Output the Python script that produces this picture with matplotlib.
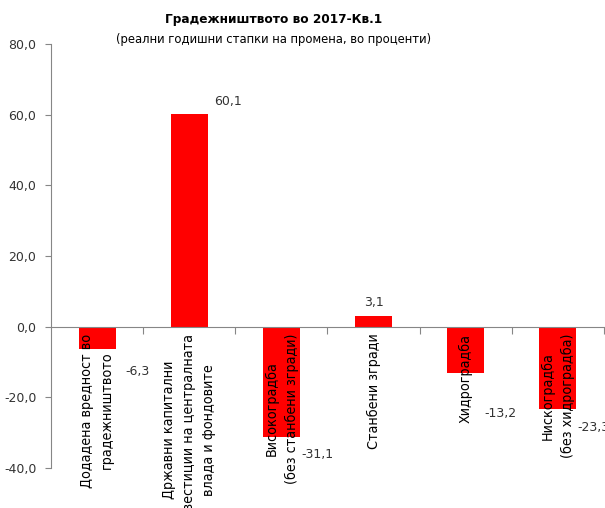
import matplotlib
matplotlib.use('Agg')
import matplotlib.pyplot as plt

# Податоци
kategorii = [
    "Додадена вредност во\nградежништвото",
    "Државни капитални\nинвестиции на централната\nвлада и фондовите",
    "Високоградба\n(без станбени згради)",
    "Станбени згради",
    "Хидроградба",
    "Нискоградба\n(без хидроградба)",
]
vrednosti = [-6.3, 60.1, -31.1, 3.1, -13.2, -23.3]
yticks = [-40, -20, 0, 20, 40, 60, 80]

# pomestuvanje na etiketite (pikseli), rachno kako vo Excel
label_pos = [(10, -23, 'left'), (6, 13, 'left'), (2, -18, 'left'),
             (0, 13, 'center'), (0, -40, 'left'), (1, -19, 'left')]

siva = '#868686'
plt.rcParams['font.family'] = ['DejaVu Sans']

fig = plt.figure(figsize=(6.05, 5.08), dpi=100)
ax = fig.add_axes([51 / 605, 1 - 468 / 508, 553 / 605, 424 / 508])

x = list(range(len(kategorii)))
bars = ax.bar(x, vrednosti, width=0.4, color='#ff0000')

ax.set_xlim(-0.5, len(kategorii) - 0.5)
ax.set_ylim(-40, 80)

ax.spines['top'].set_visible(False)
ax.spines['right'].set_visible(False)
ax.spines['bottom'].set_position(('data', 0))
ax.spines['bottom'].set_color(siva)
ax.spines['left'].set_color(siva)

ax.set_yticks(yticks)
ax.set_yticklabels([f"{v:.1f}".replace('.', ',') for v in yticks], fontsize=9, color='#333333')
ax.tick_params(axis='y', direction='out', length=4.5, color=siva, pad=6)

# granici megju kategorii kako glavni podeoci, iminjata na sporednite
ax.set_xticks([i + 0.5 for i in x[:-1]] + [len(x) - 0.5])
ax.set_xticklabels([])
ax.tick_params(axis='x', which='major', direction='out', length=5, color=siva)
ax.set_xticks(x, minor=True)
ax.set_xticklabels(kategorii, minor=True, rotation=90, fontsize=10.3, fontstretch='condensed',
                   va='top', ha='center', multialignment='center', linespacing=1.55)
ax.tick_params(axis='x', which='minor', length=0, pad=5)

for b, v, (dx, dy, ha) in zip(bars, vrednosti, label_pos):
    xx = b.get_x() + b.get_width() if ha == 'left' else b.get_x() + b.get_width() / 2
    ax.annotate(f"{v:.1f}".replace('.', ','), (xx, v), xytext=(dx, dy),
                textcoords='offset pixels', ha=ha, va='center', fontsize=9, color='#333333')

fig.text(274 / 605, 1 - 20 / 508, "Градежништвото во 2017-Кв.1", ha='center', va='center',
         fontsize=9.7, fontweight='bold', fontstretch='condensed')
fig.text(274 / 605, 1 - 39 / 508, "(реални годишни стапки на промена, во проценти)",
         ha='center', va='center', fontsize=9.3, fontstretch='condensed')

fig.savefig('out.png', dpi=100)
